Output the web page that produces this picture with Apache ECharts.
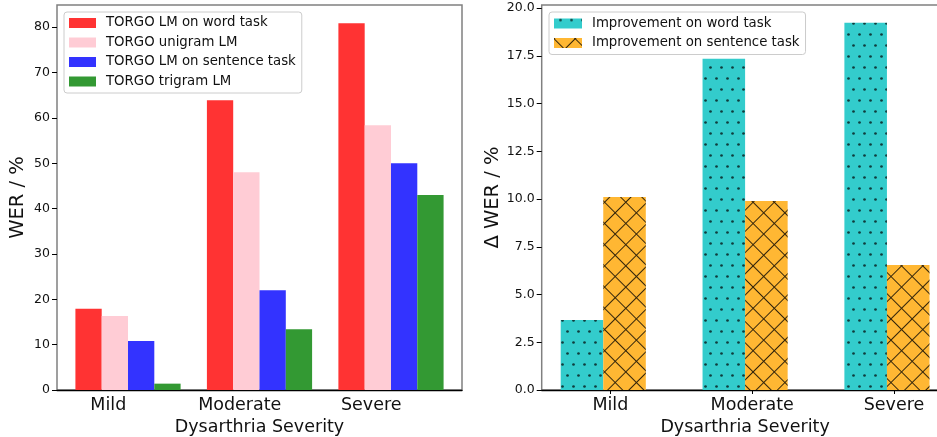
<!DOCTYPE html>
<html><head><meta charset="utf-8">
<script src="https://cdn.jsdelivr.net/npm/echarts@6/dist/echarts.min.js"></script>
<style>html,body{margin:0;padding:0;background:#fff;overflow:hidden}#c{width:937px;height:437px}</style>
</head><body><div id="c"></div>
<script>
// ---- data ----
const categories = ['Mild', 'Moderate', 'Severe'];
const wordLM = [17.9, 63.9, 80.9];
const unigramLM = [16.3, 48.0, 58.4];
const sentenceLM = [10.8, 22.0, 50.0];
const trigramLM = [1.4, 13.4, 43.0];
const improveWord = [3.67, 17.34, 19.23];
const improveSentence = [10.1, 9.9, 6.55];
const leftYTicks = [0, 10, 20, 30, 40, 50, 60, 70, 80];
const rightYTicks = [0, 2.5, 5, 7.5, 10, 12.5, 15, 17.5, 20];

// ---- helpers ----
const FONT = 'DejaVu Sans';
const pos = categories.map((c, i) => i);
const pairs = arr => arr.map((v, i) => [pos[i], v]);
const leftLabelShift = -0.15, rightLabelShift = 0.05;

const dotDecal = {
  symbol: 'circle', symbolSize: 0.9,
  dashArrayX: [[3, 8], [0, 5, 3, 3]], dashArrayY: [3, 8],
  color: 'rgba(0,0,0,0.7)'
};
const crossDecal = {
  symbol: 'rect', symbolSize: 1, symbolKeepAspect: false,
  dashArrayX: [[15, 0], [1, 14]], dashArrayY: [1, 0, 14, 0],
  rotation: Math.PI / 4, color: 'rgba(0,0,0,0.8)'
};

function barSeries(name, data, color, xi, width, decal) {
  const s = {
    type: 'bar', name, data: pairs(data), xAxisIndex: xi, yAxisIndex: xi,
    barWidth: width, barGap: '0%',
    itemStyle: { color, borderWidth: 0 }
  };
  if (decal) s.itemStyle.decal = decal;
  return s;
}

const tickLabel = { fontFamily: FONT, fontSize: 12.5, color: '#111' };

const chart = echarts.init(document.getElementById('c'), null, { renderer: 'canvas', width: 937, height: 437 });
chart.setOption({
  animation: false,
  backgroundColor: '#fff',
  grid: [
    { left: 57, top: 5, width: 405, height: 385, show: true, borderColor: '#808080', borderWidth: 1.5, containLabel: false, outerBoundsMode: 'none' },
    { left: 541.7, top: 5, width: 406.8, height: 385, show: true, borderColor: '#808080', borderWidth: 1.5, containLabel: false, outerBoundsMode: 'none' }
  ],
  xAxis: [
    {
      type: 'value', gridIndex: 0, min: -0.54, max: 2.54,
      axisLine: { show: true, onZero: false, lineStyle: { color: '#000', width: 1.3 } },
      axisTick: { show: false },
      splitLine: { show: false },
      axisLabel: {
        customValues: pos.map(p => p + leftLabelShift),
        formatter: v => categories[Math.round(v - leftLabelShift)],
        fontFamily: FONT, fontSize: 17.5, color: '#111', margin: 6
      },
      name: 'Dysarthria Severity', nameLocation: 'middle', nameGap: 25,
      nameTextStyle: { fontFamily: FONT, fontSize: 17.5, color: '#111' }
    },
    {
      type: 'value', gridIndex: 1, min: -0.434, max: 2.434,
      axisLine: { show: true, onZero: false, lineStyle: { color: '#000', width: 1.3 } },
      axisTick: { show: true, customValues: pos.map(p => p + rightLabelShift), length: 4, lineStyle: { color: '#000', width: 1 } },
      splitLine: { show: false },
      axisLabel: {
        customValues: pos.map(p => p + rightLabelShift),
        formatter: v => categories[Math.round(v - rightLabelShift)],
        fontFamily: FONT, fontSize: 17.5, color: '#111', margin: 6
      },
      name: 'Dysarthria Severity', nameLocation: 'middle', nameGap: 25,
      nameTextStyle: { fontFamily: FONT, fontSize: 17.5, color: '#111' }
    }
  ],
  yAxis: [
    {
      type: 'value', gridIndex: 0, min: 0, max: 84.9,
      axisLine: { show: false, onZero: false },
      axisTick: { show: true, customValues: leftYTicks, length: 5, lineStyle: { color: '#000', width: 1 } },
      splitLine: { show: false },
      axisLabel: Object.assign({ customValues: leftYTicks, margin: 7, formatter: v => String(v) }, tickLabel),
      name: 'WER / %', nameLocation: 'middle', nameGap: 29,
      nameTextStyle: { fontFamily: FONT, fontSize: 19.5, color: '#111' }
    },
    {
      type: 'value', gridIndex: 1, min: 0, max: 20.16,
      axisLine: { show: false, onZero: false },
      axisTick: { show: true, customValues: rightYTicks, length: 5, lineStyle: { color: '#000', width: 1 } },
      splitLine: { show: false },
      axisLabel: Object.assign({ customValues: rightYTicks, margin: 7, formatter: v => v.toFixed(1) }, tickLabel),
      name: 'Δ WER / %', nameLocation: 'middle', nameGap: 39,
      nameTextStyle: { fontFamily: FONT, fontSize: 19.5, color: '#111' }
    }
  ],
  legend: [
    {
      data: ['TORGO LM on word task', 'TORGO unigram LM', 'TORGO LM on sentence task', 'TORGO trigram LM'],
      orient: 'vertical', left: 64, top: 12,
      itemWidth: 27, itemHeight: 10, itemGap: 6.5,
      icon: 'rect',
      padding: [4.5, 6, 5, 5],
      backgroundColor: '#fff', borderColor: '#cccccc', borderWidth: 1, borderRadius: 3,
      textStyle: { fontFamily: FONT, fontSize: 13.3, color: '#111', padding: [0, 0, 0, 5] }
    },
    {
      data: [
        { name: 'Improvement on word task', itemStyle: { decal: dotDecal } },
        { name: 'Improvement on sentence task', itemStyle: { decal: crossDecal } }
      ],
      orient: 'vertical', left: 549, top: 12,
      itemWidth: 28, itemHeight: 10, itemGap: 6.5,
      icon: 'rect',
      padding: [5, 6, 5, 5],
      backgroundColor: '#fff', borderColor: '#cccccc', borderWidth: 1, borderRadius: 3,
      textStyle: { fontFamily: FONT, fontSize: 13.3, color: '#111', padding: [0, 0, 0, 5] }
    }
  ],
  series: [
    barSeries('TORGO LM on word task', wordLM, '#ff3333', 0, '20%'),
    barSeries('TORGO unigram LM', unigramLM, '#ffccd5', 0, '20%'),
    barSeries('TORGO LM on sentence task', sentenceLM, '#3333ff', 0, '20%'),
    barSeries('TORGO trigram LM', trigramLM, '#339933', 0, '20%'),
    barSeries('Improvement on word task', improveWord, '#33cccc', 1, '30%', dotDecal),
    barSeries('Improvement on sentence task', improveSentence, '#ffb733', 1, '30%', crossDecal)
  ]
});
</script>
</body></html>
